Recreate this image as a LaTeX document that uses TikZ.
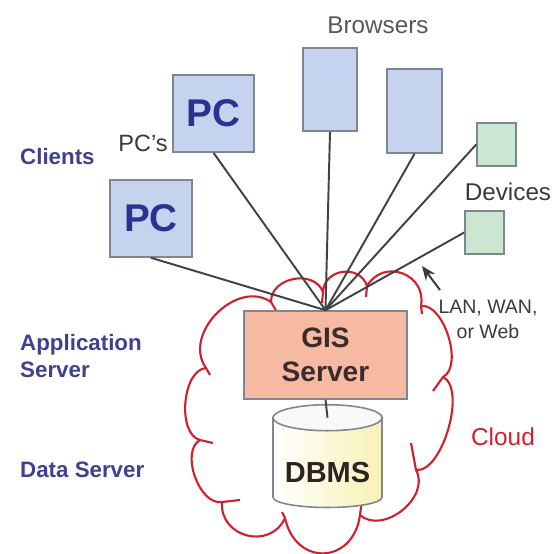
\documentclass[tikz,border=0pt]{standalone}
\usepackage{fontspec}
\setmainfont{Liberation Sans}
\usetikzlibrary{shapes.geometric,arrows.meta,calc}
\definecolor{boxblue}{HTML}{C6D3EF}
\definecolor{devgreen}{HTML}{CBE7D2}
\definecolor{gissalmon}{HTML}{F6B9A1}
\definecolor{boxline}{HTML}{7F8591}
\definecolor{tierblue}{HTML}{404090}
\definecolor{pcblue}{HTML}{2E3192}
\definecolor{gistext}{HTML}{3B2B2B}
\definecolor{dbyellow}{HTML}{F7F2B4}
\definecolor{cloudred}{HTML}{D0202E}
\definecolor{linkgray}{HTML}{3E4247}
\definecolor{notegray}{HTML}{3A3A3A}
\tikzset{
  client/.style={draw=boxline, line width=0.9pt, fill=boxblue, inner sep=0pt},
  device/.style={draw=boxline, line width=0.9pt, fill=devgreen, inner sep=0pt,
    minimum width=0.78cm, minimum height=0.86cm},
  pclabel/.style={text=pcblue, font=\fontsize{22}{24}\selectfont\bfseries},
  tier/.style={anchor=west, align=left, text=tierblue,
    font=\fontsize{12.7}{15.9}\selectfont\bfseries},
  note/.style={text=notegray, font=\fontsize{13.8}{16}\selectfont},
  link/.style={draw=linkgray, line width=1.1pt},
  puff/.style={bend left=80, looseness=#1},
}
\begin{document}
\begin{tikzpicture}
\useasboundingbox (0,0) rectangle (11.04,11.08);
% cloud
\draw[cloudred, line width=1.2pt, line join=round]
  (4.00,2.28) to[puff=0.85] (4.12,3.72) to[puff=1.15] (5.42,5.04)
  to[puff=1.2] (6.46,5.24) to[puff=1.35] (7.34,5.36) to[puff=1.45] (8.42,4.96)
  to[puff=0.8] (8.86,3.54) to[puff=0.7] (8.32,1.68) to[puff=1.1] (7.20,0.78)
  to[puff=1.7] (5.70,0.72) to[puff=1.4] (4.44,1.04) to[puff=0.9] cycle;
% cloud hooks
\draw[cloudred, line width=1.2pt]
  (4.00,2.28) -- (4.26,2.22)
  (4.12,3.72) -- (4.20,3.58)
  (5.42,5.04) -- (5.54,4.84)
  (6.46,5.24) -- (6.44,5.02)
  (7.34,5.36) -- (7.32,5.14)
  (8.42,4.96) -- (8.44,4.80)
  (8.86,3.54) -- (8.66,3.26)
  (8.32,1.68) -- (8.22,2.22)
  (7.20,0.78) -- (7.24,1.08)
  (5.70,0.72) -- (5.64,0.84)
  (4.44,1.04) -- (4.80,1.08);
% clients
\node[client, minimum width=1.62cm, minimum height=1.54cm, pclabel] (pcA) at (4.27,8.81) {PC};
\node[client, minimum width=1.64cm, minimum height=1.54cm, pclabel] (pcB) at (3.02,6.71) {PC};
\node[client, minimum width=1.08cm, minimum height=1.66cm] (brA) at (6.60,9.29) {};
\node[client, minimum width=1.10cm, minimum height=1.68cm] (brB) at (8.29,8.86) {};
\node[device] (devA) at (9.93,8.19) {};
\node[device] (devB) at (9.69,6.43) {};
% servers
\node[draw=boxline, line width=0.9pt, fill=gissalmon, minimum width=3.26cm,
  minimum height=1.76cm, align=center, text=gistext,
  font=\fontsize{16}{19}\selectfont\bfseries] (gis) at (6.51,3.98) {GIS\\Server};
\node[cylinder, shape border rotate=90, aspect=0.24, draw=boxline, line width=0.9pt,
  minimum width=2.18cm, minimum height=2.0cm, inner sep=0pt, shade,
  left color=white, right color=dbyellow, text=gistext!80!black, text height=22pt,
  font=\fontsize{16.5}{19}\selectfont\bfseries] (dbms) at (6.55,1.82) {DBMS};
\coordinate (dbtop) at ($(dbms.before top)!0.5!(dbms.after top)$);
\draw[draw=boxline, line width=0.9pt, fill=white!95!gray] (dbtop) ellipse (1.09 and 0.26);
% links
\foreach \src in {pcA.south, pcB.south, brA.south, brB.south, devA.west, devB.west}
  \draw[link] (\src) -- (gis.north);
\draw[link] (gis.south) -- (dbtop);
% labels
\node[note, text=notegray!85!white] (browsers) at (7.56,10.58) {Browsers};
\node[note] (devices) at (10.16,7.24) {Devices};
\node[note, font=\fontsize{13.4}{16}\selectfont] (pcs) at (2.86,8.22) {PC's};
\node[note, align=center, font=\fontsize{11.1}{14.2}\selectfont] (lan) at (9.76,4.69) {LAN, WAN,\\or Web};
\node[text=cloudred, font=\fontsize{13.9}{16}\selectfont] (cloud) at (10.06,2.34) {Cloud};
\node[tier] (clients) at (0.28,7.94) {Clients};
\node[tier] (appserver) at (0.28,3.96) {Application\\Server};
\node[tier] (dataserver) at (0.28,1.68) {Data Server};
% arrow to network
\coordinate (lantail) at (8.80,5.28);
\coordinate (lantip) at (8.44,5.76);
\draw[-{Stealth[length=8pt,width=6.5pt]}, line width=1.1pt, notegray] (lantail) -- (lantip);
\end{tikzpicture}
\end{document}
